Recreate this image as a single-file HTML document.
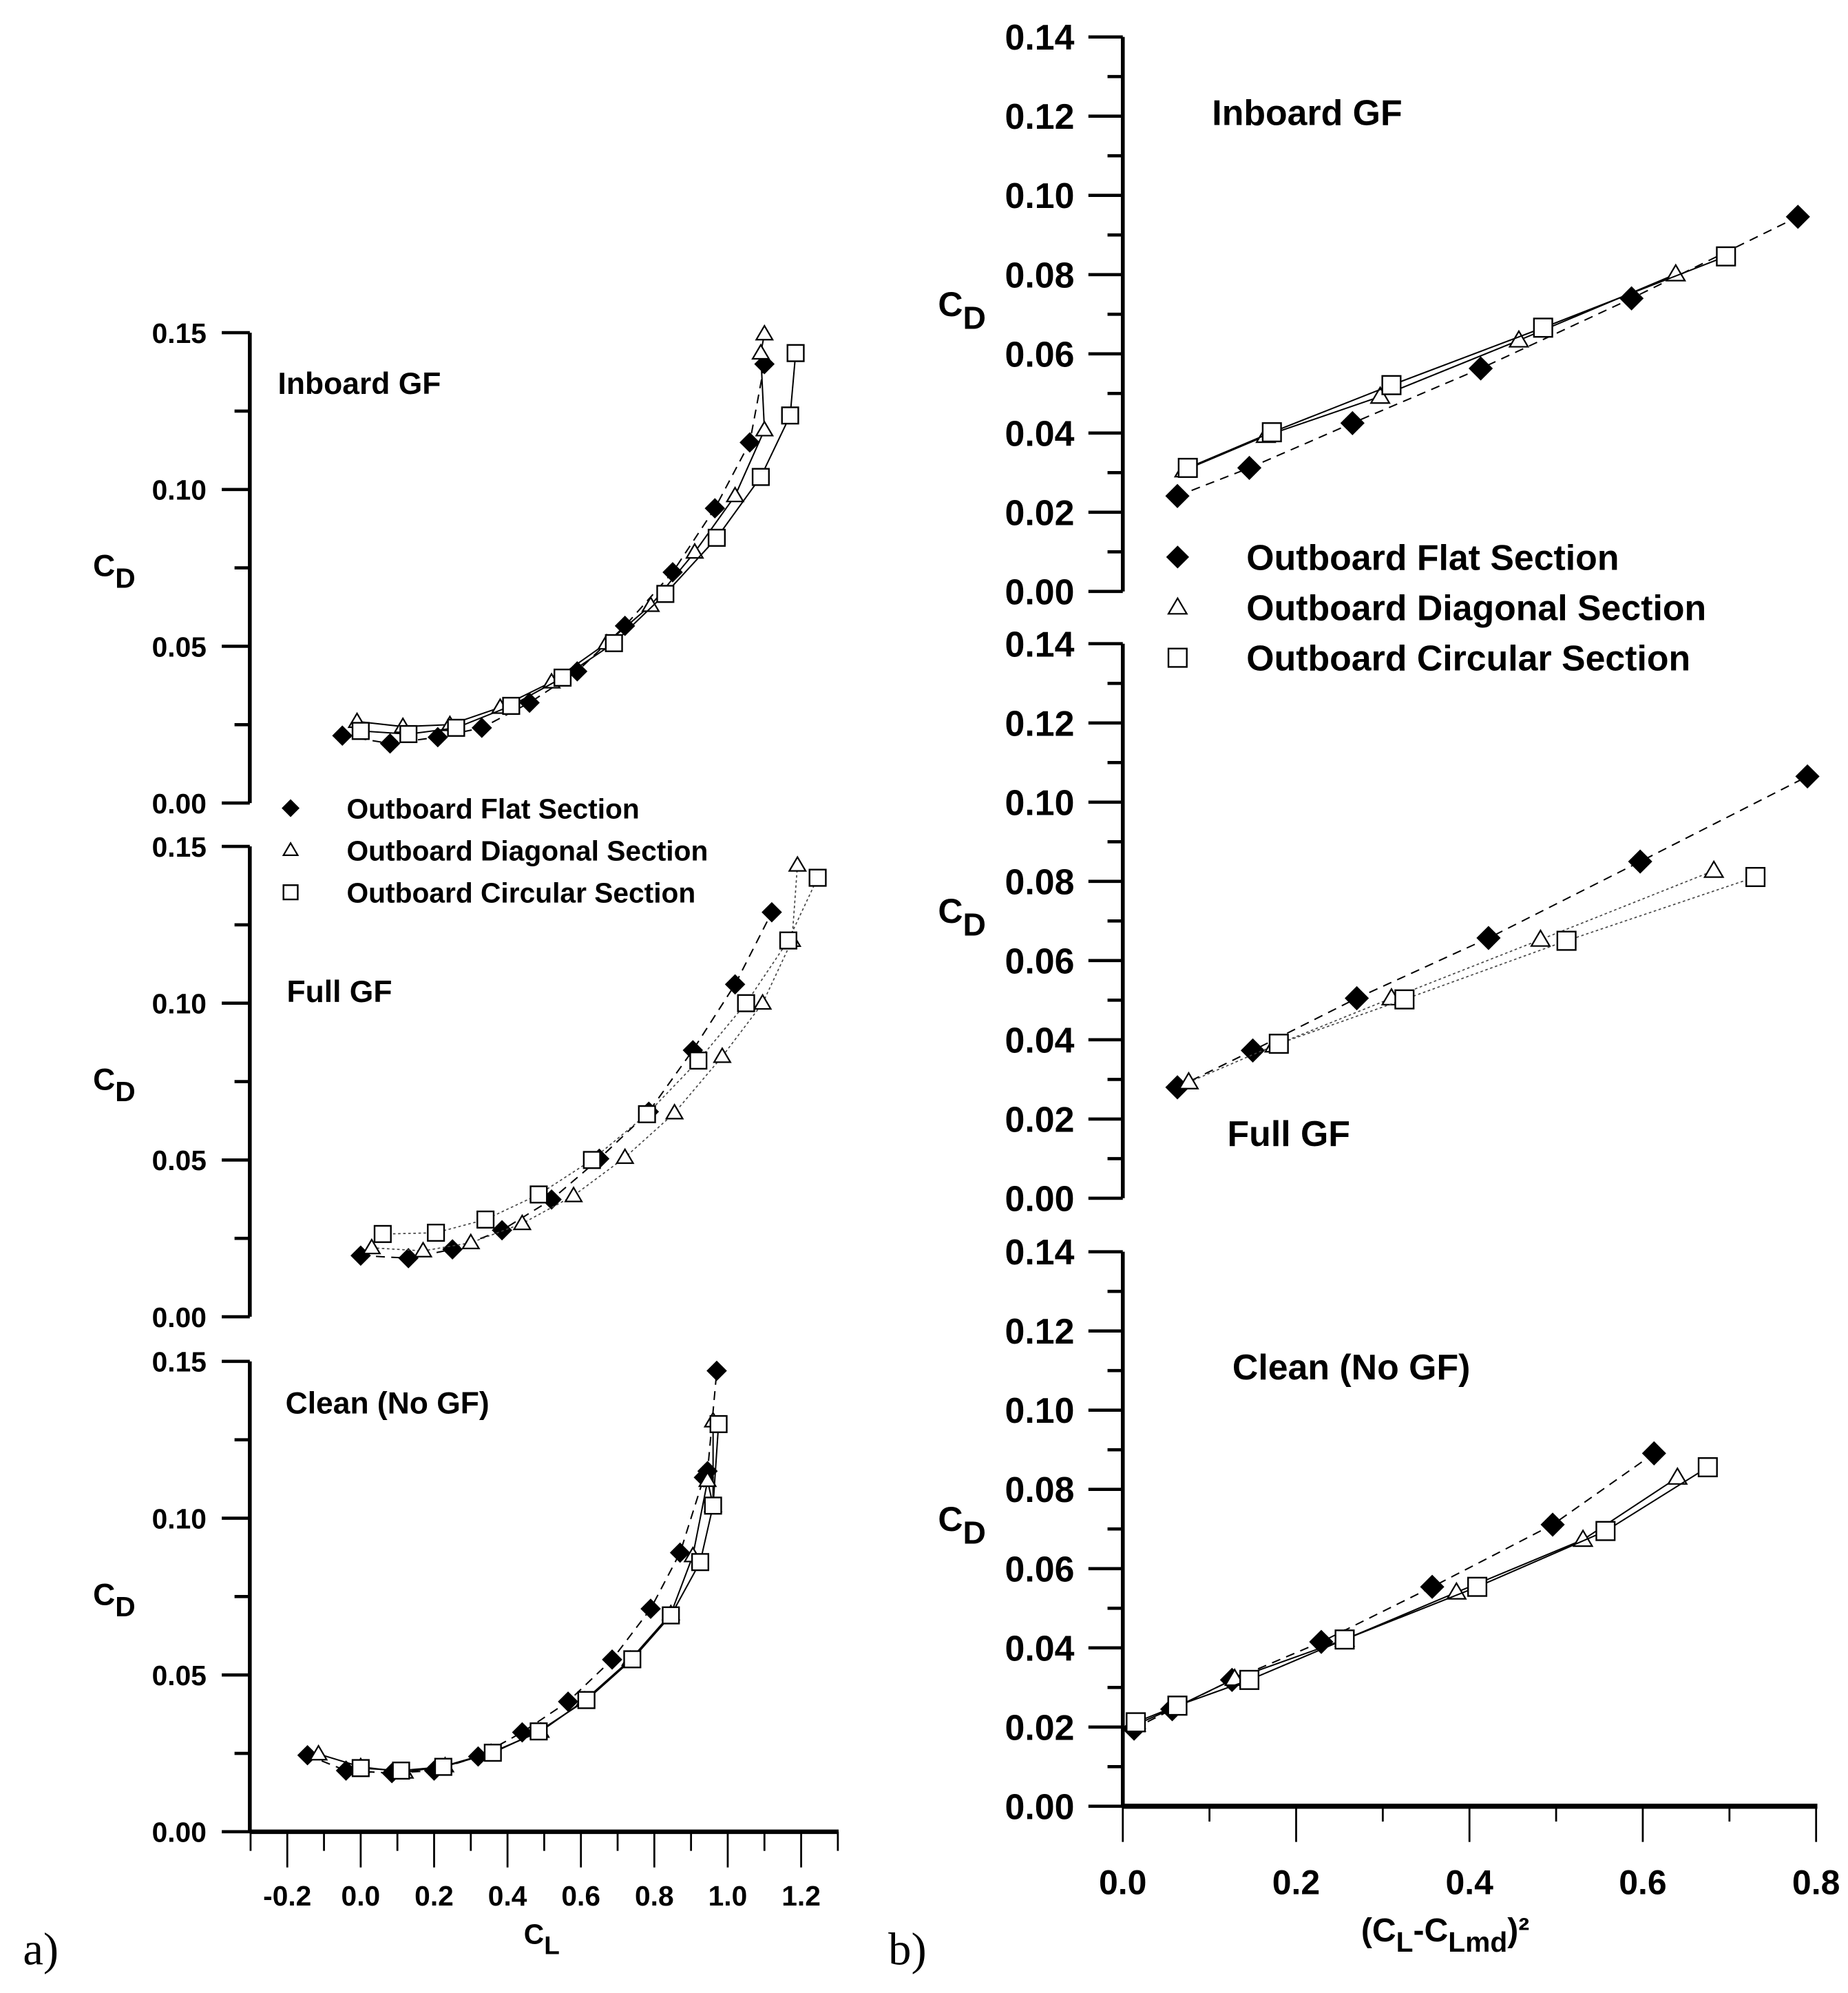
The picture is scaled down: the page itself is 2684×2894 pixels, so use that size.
<!DOCTYPE html>
<html><head><meta charset="utf-8"><style>
html,body{margin:0;padding:0;background:#fff;}
svg{display:block;}
text{font-family:"Liberation Sans",Arial,sans-serif;font-weight:bold;fill:#000;}
</style></head>
<body>
<svg id="fig" xmlns="http://www.w3.org/2000/svg" width="2684" height="2894" viewBox="0 0 1450 1563.5">
<g id="root"></g>
</svg>
<script>
// ---------- Data (a) CD vs CL ----------
const aInFlatCL=[-0.05,0.08,0.21,0.33,0.46,0.59,0.72,0.85,0.965,1.06,1.10];
const aInFlatCD=[0.0215,0.019,0.021,0.024,0.032,0.042,0.0565,0.0736,0.094,0.115,0.14];
const aInDiagCL=[-0.01,0.115,0.243,0.38,0.52,0.67,0.79,0.91,1.02,1.10,1.09,1.10];
const aInDiagCD=[0.026,0.0244,0.025,0.0305,0.0386,0.051,0.063,0.080,0.098,0.119,0.1435,0.1496];
const aInCircCL=[0.0,0.13,0.26,0.41,0.55,0.69,0.83,0.97,1.09,1.17,1.185];
const aInCircCD=[0.023,0.022,0.024,0.031,0.040,0.051,0.0667,0.0846,0.104,0.1236,0.1435];

const aFullFlatCL=[0.0,0.13,0.25,0.385,0.52,0.65,0.785,0.905,1.02,1.12];
const aFullFlatCD=[0.0195,0.0187,0.0215,0.0276,0.0374,0.0504,0.0654,0.085,0.106,0.129];
const aFullDiagCL=[0.03,0.17,0.30,0.44,0.58,0.72,0.855,0.985,1.095,1.175,1.19];
const aFullDiagCD=[0.022,0.021,0.0236,0.0297,0.0386,0.0508,0.065,0.083,0.100,0.120,0.144];
const aFullCircCL=[0.06,0.205,0.34,0.485,0.63,0.78,0.92,1.05,1.165,1.245];
const aFullCircCD=[0.0264,0.0268,0.031,0.039,0.050,0.0646,0.0817,0.100,0.120,0.140];

const aCleanFlatCL=[-0.145,-0.04,0.085,0.2,0.32,0.44,0.565,0.685,0.79,0.87,0.935,0.945,0.97];
const aCleanFlatCD=[0.0244,0.0195,0.0187,0.0195,0.024,0.0317,0.0415,0.0549,0.0711,0.089,0.113,0.115,0.147];
const aCleanDiagCL=[-0.115,0.0,0.12,0.23,0.355,0.49,0.61,0.735,0.845,0.905,0.945,0.96,0.96];
const aCleanDiagCD=[0.0248,0.0207,0.019,0.021,0.0252,0.032,0.0419,0.0549,0.0695,0.088,0.112,0.104,0.131];
const aCleanCircCL=[0.0,0.11,0.225,0.36,0.485,0.615,0.74,0.845,0.925,0.96,0.975];
const aCleanCircCD=[0.0203,0.0195,0.0207,0.0252,0.032,0.042,0.055,0.069,0.086,0.104,0.130];

// ---------- Data (b) CD vs (CL-CLmd)^2 ----------
const bInFlatX=[0.063,0.146,0.265,0.413,0.587,0.779];
const bInFlatY=[0.0241,0.0312,0.0425,0.0563,0.074,0.0946];
const bInDiagX=[0.071,0.165,0.297,0.457,0.638];
const bInDiagY=[0.0306,0.0393,0.0492,0.0634,0.0801];
const bInCircX=[0.075,0.172,0.31,0.485,0.696];
const bInCircY=[0.0312,0.0402,0.0521,0.0666,0.0846];

const bFullFlatX=[0.063,0.15,0.27,0.422,0.597,0.79];
const bFullFlatY=[0.028,0.0373,0.0505,0.0657,0.085,0.1065];
const bFullDiagX=[0.076,0.175,0.31,0.482,0.682];
const bFullDiagY=[0.0293,0.0386,0.0505,0.0653,0.0827];
const bFullCircX=[0.18,0.325,0.512,0.73];
const bFullCircY=[0.039,0.0502,0.065,0.0811];

const bCleanFlatX=[0.013,0.057,0.126,0.229,0.357,0.496,0.613];
const bCleanFlatY=[0.0196,0.0245,0.0319,0.0415,0.0554,0.0711,0.0891];
const bCleanDiagX=[0.015,0.062,0.129,0.256,0.385,0.531,0.64];
const bCleanDiagY=[0.0206,0.0251,0.0322,0.0421,0.054,0.0673,0.083];
const bCleanCircX=[0.015,0.063,0.146,0.256,0.409,0.557,0.675];
const bCleanCircY=[0.0212,0.0254,0.0319,0.0421,0.0554,0.0695,0.0856];

const aYTicks=["0.00","0.05","0.10","0.15"];
const aXTicks=["-0.2","0.0","0.2","0.4","0.6","0.8","1.0","1.2"];
const bYTicks=["0.00","0.02","0.04","0.06","0.08","0.10","0.12","0.14"];
const bXTicks=["0.0","0.2","0.4","0.6","0.8"];
const legendLabels=["Outboard Flat Section","Outboard Diagonal Section","Outboard Circular Section"];

const NS="http://www.w3.org/2000/svg";
const root=document.getElementById('root');
function mk(tag,attrs,parent){const e=document.createElementNS(NS,tag);for(const k in attrs)e.setAttribute(k,attrs[k]);(parent||root).appendChild(e);return e;}
function txt(str,x,y,size,anchor,parent){const t=mk('text',{x:x,y:y,'font-size':size,'text-anchor':anchor||'start'},parent);t.textContent=str;return t;}

function marker(type,x,y,sz,parent){
  let e;
  if(type==='flat'){const h=sz;e=mk('polygon',{points:`${x},${y-h} ${x+h},${y} ${x},${y+h} ${x-h},${y}`,fill:'#000'},parent);}
  else if(type==='diag'){const h=sz*0.8;e=mk('polygon',{points:`${x},${y-h} ${x+h},${y+h*0.7} ${x-h},${y+h*0.7}`,fill:'#fff',stroke:'#000','stroke-width':1.2},parent);}
  else {const h=sz*0.8;e=mk('rect',{x:x-h,y:y-h,width:2*h,height:2*h,fill:'#fff',stroke:'#000','stroke-width':1.3},parent);}
  return e;
}

function makeA(y0){return {sx:v=>283+v*288, sy:v=>y0-v/0.15*369};}
function makeB(y0){return {sx:v=>881+v*680, sy:v=>y0-v/0.14*435};}

function drawSeries(ax,xs,ys,type,sz,dash,name,parent){
  const g=mk('g',{},parent);
  
  
  const pts=xs.map((v,i)=>ax.sx(v).toFixed(1)+','+ax.sy(ys[i]).toFixed(1)).join(' ');
  const pl=mk('polyline',{points:pts,fill:'none',stroke:dash==='dot'?'#444':'#000','stroke-width':dash==='dot'?0.9:1.1},g);
  if(dash==='dash')pl.setAttribute('stroke-dasharray','7,5');
  if(dash==='dot')pl.setAttribute('stroke-dasharray','2,2');
  xs.forEach((v,i)=>{const m=marker(type,ax.sx(v),ax.sy(ys[i]),sz,g);
    
    });
}

function drawAYAxis(y0,name){
  const g=mk('g',{});
  
  
  const ax=makeA(y0);
  mk('line',{x1:196,y1:ax.sy(0.15),x2:196,y2:y0,stroke:'#000','stroke-width':3},g);
  for(let i=0;i<=6;i++){const v=i*0.025;const y=ax.sy(v);const major=i%2===0;
    mk('line',{x1:major?174:184,y1:y,x2:196,y2:y,stroke:'#000','stroke-width':2.5},g);}
  aYTicks.forEach((s,i)=>{txt(s,162,ax.sy(i*0.05)+8,22,'end',g);});
  const t=txt('C',73,y0-178,24,'start',g);
  const ts=mk('tspan',{'font-size':22,dy:9},t);ts.textContent='D';
  return ax;
}
function drawBYAxis(y0,name){
  const g=mk('g',{});
  
  
  const ax=makeB(y0);
  mk('line',{x1:881,y1:ax.sy(0.14),x2:881,y2:y0,stroke:'#000','stroke-width':3},g);
  for(let i=0;i<=14;i++){const v=i*0.01;const y=ax.sy(v);const major=i%2===0;
    mk('line',{x1:major?854:869,y1:y,x2:881,y2:y,stroke:'#000','stroke-width':2.5},g);}
  bYTicks.forEach((s,i)=>{txt(s,843,ax.sy(i*0.02)+10,28,'end',g);});
  const t=txt('C',736,y0-216,27,'start',g);
  const ts=mk('tspan',{'font-size':25,dy:10},t);ts.textContent='D';
  return ax;
}

// ----- Left panel (a) -----
const aTop=drawAYAxis(630,'a-inboard-y-axis');
const aMid=drawAYAxis(1033,'a-full-y-axis');
const aBot=drawAYAxis(1437,'a-clean-y-axis');
(function(){
  const g=mk('g',{});
  
  
  mk('line',{x1:196,y1:1437,x2:658,y2:1437,stroke:'#000','stroke-width':3.5},g);
  for(let i=-3;i<=13;i++){const x=aBot.sx(i*0.1);const major=(i%2===0);
    mk('line',{x1:x,y1:1437,x2:x,y2:major?1465:1452,stroke:'#000','stroke-width':1.5},g);}
  aXTicks.forEach((s,i)=>txt(s,aBot.sx(-0.2+i*0.2),1495,22,'middle',g));
  const t=txt('C',411,1525,22,'start',g);
  const ts=mk('tspan',{'font-size':20,dy:8},t);ts.textContent='L';
})();
[['Inboard GF',218,309,'a-title-inboard'],['Full GF',225,786,'a-title-full'],['Clean (No GF)',224,1109,'a-title-clean']].forEach(a=>{
  const t=txt(a[0],a[1],a[2],24);
  
  
});
drawSeries(aTop,aInFlatCL,aInFlatCD,'flat',8,'dash','a-inboard-flat');
drawSeries(aTop,aInDiagCL,aInDiagCD,'diag',8,'solid','a-inboard-diagonal');
drawSeries(aTop,aInCircCL,aInCircCD,'circ',8,'solid','a-inboard-circular');
drawSeries(aMid,aFullFlatCL,aFullFlatCD,'flat',8,'dash','a-full-flat');
drawSeries(aMid,aFullDiagCL,aFullDiagCD,'diag',8,'dot','a-full-diagonal');
drawSeries(aMid,aFullCircCL,aFullCircCD,'circ',8,'dot','a-full-circular');
drawSeries(aBot,aCleanFlatCL,aCleanFlatCD,'flat',8,'dash','a-clean-flat');
drawSeries(aBot,aCleanDiagCL,aCleanDiagCD,'diag',8,'solid','a-clean-diagonal');
drawSeries(aBot,aCleanCircCL,aCleanCircCD,'circ',8,'solid','a-clean-circular');
(function(){
  const g=mk('g',{});
  
  
  const types=['flat','diag','circ'];
  legendLabels.forEach((s,i)=>{const y=634+i*33;
    const e=mk('g',{},g);
    
    
    marker(types[i],228,y,7,e);
    txt(s,272,y+8,22,'start',e);});
})();

// ----- Right panel (b) -----
const bTop=drawBYAxis(464,'b-inboard-y-axis');
const bMid=drawBYAxis(940,'b-full-y-axis');
const bBot=drawBYAxis(1417,'b-clean-y-axis');
(function(){
  const g=mk('g',{});
  
  
  mk('line',{x1:881,y1:1417,x2:1426,y2:1417,stroke:'#000','stroke-width':4},g);
  for(let i=0;i<=8;i++){const x=bBot.sx(i*0.1);const major=(i%2===0);
    mk('line',{x1:x,y1:1417,x2:x,y2:major?1445:1429,stroke:'#000','stroke-width':1.5},g);}
  bXTicks.forEach((s,i)=>txt(s,bBot.sx(i*0.2),1486,27,'middle',g));
  const t=txt('(C',1068,1523,26,'start',g);
  const a1=mk('tspan',{'font-size':22,dy:8},t);a1.textContent='L';
  const a2=mk('tspan',{dy:-8},t);a2.textContent='-C';
  const a3=mk('tspan',{'font-size':22,dy:8},t);a3.textContent='Lmd';
  const a4=mk('tspan',{dy:-8},t);a4.textContent=')²';
})();
[['Inboard GF',951,98,'b-title-inboard'],['Full GF',963,899,'b-title-full'],['Clean (No GF)',967,1082,'b-title-clean']].forEach(a=>{
  const t=txt(a[0],a[1],a[2],28);
  
  
});
drawSeries(bTop,bInFlatX,bInFlatY,'flat',9.5,'dash','b-inboard-flat');
drawSeries(bTop,bInDiagX,bInDiagY,'diag',9,'solid','b-inboard-diagonal');
drawSeries(bTop,bInCircX,bInCircY,'circ',9,'solid','b-inboard-circular');
drawSeries(bMid,bFullFlatX,bFullFlatY,'flat',9.5,'dash','b-full-flat');
drawSeries(bMid,bFullDiagX,bFullDiagY,'diag',9,'dot','b-full-diagonal');
drawSeries(bMid,bFullCircX,bFullCircY,'circ',9,'dot','b-full-circular');
drawSeries(bBot,bCleanFlatX,bCleanFlatY,'flat',9.5,'dash','b-clean-flat');
drawSeries(bBot,bCleanDiagX,bCleanDiagY,'diag',9,'solid','b-clean-diagonal');
drawSeries(bBot,bCleanCircX,bCleanCircY,'circ',9,'solid','b-clean-circular');
(function(){
  const g=mk('g',{});
  
  
  const types=['flat','diag','circ'];
  legendLabels.forEach((s,i)=>{const y=437+i*39.5;
    const e=mk('g',{},g);
    
    
    marker(types[i],924,y,9,e);
    txt(s,978,y+10,28,'start',e);});
})();

const la=mk('text',{x:18,y:1541,'font-size':36,style:'font-family:"Liberation Serif",serif;font-weight:normal'});
la.textContent='a)';


const lb=mk('text',{x:697,y:1541,'font-size':36,style:'font-family:"Liberation Serif",serif;font-weight:normal'});
lb.textContent='b)';


</script>
</body></html>
